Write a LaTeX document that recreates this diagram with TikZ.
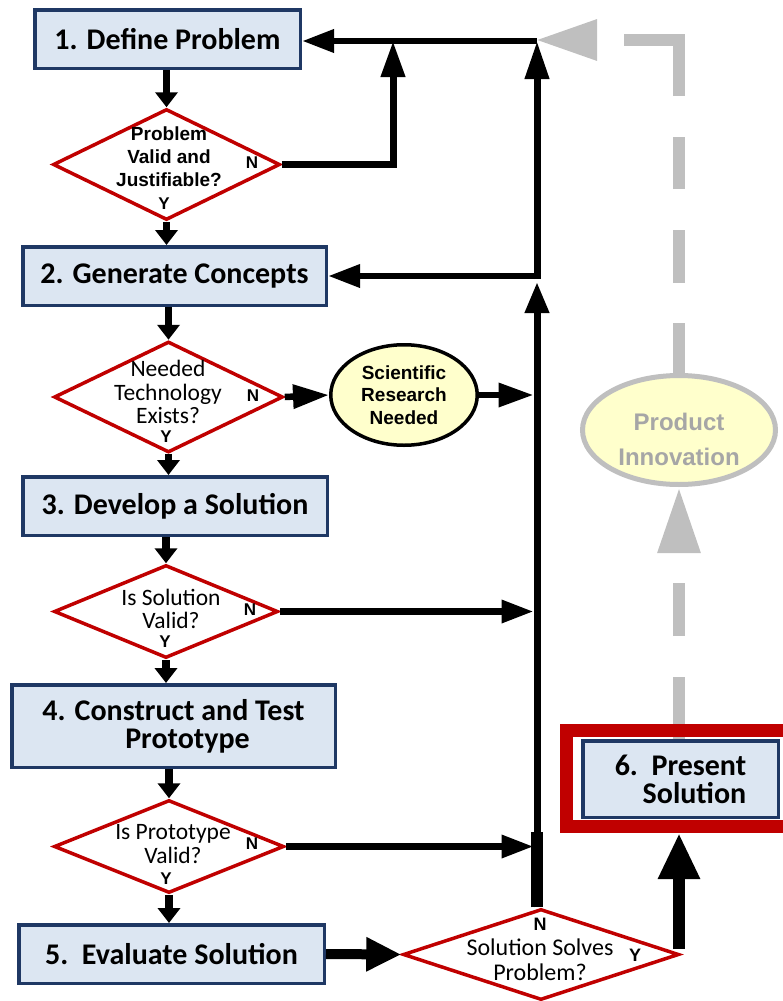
\documentclass[tikz,border=0pt]{standalone}
\usepackage{fontspec}
\usetikzlibrary{arrows.meta,shapes.geometric}
\newfontfamily\carl{Carlito}
\newfontfamily\arl{Liberation Sans}
\definecolor{navy}{HTML}{1F3864}
\definecolor{boxfill}{HTML}{DCE6F2}
\definecolor{dred}{HTML}{C00000}
\definecolor{pyellow}{HTML}{FFFFCC}
\definecolor{lgray}{HTML}{BFBFBF}
\definecolor{tgray}{HTML}{A6A6A6}
\tikzset{
  box/.style={draw=navy, line width=3.5pt, fill=boxfill, inner sep=0pt, align=center,
    font=\carl\bfseries\fontsize{30}{28}\selectfont},
  dia/.style={diamond, draw=dred, line width=3.5pt, inner sep=0pt, fill=white},
  dtxt/.style={inner sep=0pt, align=center, font=\carl\fontsize{23.5}{23.5}\selectfont},
  atxt/.style={inner sep=0pt, align=center, font=\arl\bfseries\fontsize{19}{23}\selectfont},
  yn/.style={inner sep=0pt, font=\arl\bfseries\fontsize{17}{17}\selectfont},
  conn/.style={line width=6.5pt, -{Triangle[length=32pt,width=22pt]}},
  stub/.style={line width=7.5pt, -{Triangle[length=15pt,width=22pt]}},
  upconn/.style={line width=7pt, -{Triangle[length=36pt,width=23pt]}},
  graydash/.style={draw=lgray, line width=12pt},
}
\begin{document}
\begin{tikzpicture}[x=1pt,y=-1pt]
\useasboundingbox (0,0) rectangle (782,1001);

% boxes
\node[box, minimum width=265.5pt, minimum height=58.5pt] (b1) at (167.5,39) {1. Define Problem};
\node[box, minimum width=303.5pt, minimum height=58.5pt] (b2) at (174.5,276) {2. Generate Concepts};
\node[box, minimum width=304.5pt, minimum height=58.5pt] (b3) at (175,506) {3. Develop a Solution};
\node[box, minimum width=323.5pt, minimum height=82.5pt] (b4) at (173.5,726) {4. Construct and Test\\\hspace*{28pt}Prototype};
\node[box, minimum width=305.5pt, minimum height=58.5pt] (b5) at (171.5,954) {5.\ \ Evaluate Solution};

% diamonds
\node[dia, minimum width=227pt, minimum height=111pt] (d1) at (166.5,164.5) {};
\node[dia, minimum width=229pt, minimum height=111pt] (d2) at (168.5,397) {};
\node[dia, minimum width=224pt, minimum height=93pt] (d3) at (166,611.5) {};
\node[dia, minimum width=230pt, minimum height=93pt] (d4) at (169,846.5) {};
\node[dia, minimum width=276pt, minimum height=91pt] (d5) at (541,954.5) {};

\node[atxt] (t1) at (169,157) {Problem\\Valid and\\Justifiable?};
\node[dtxt] (t2) at (168,392) {Needed\\Technology\\Exists?};
\node[dtxt] (t3) at (171,609) {Is Solution\\Valid?};
\node[dtxt] (t4) at (173,844) {Is Prototype\\Valid?};
\node[dtxt, font=\carl\fontsize{24}{25}\selectfont] (t5) at (540,960) {Solution Solves\\Problem?};

\node[yn] (n1) at (252,163) {N};
\node[yn] (y1) at (164,204) {Y};
\node[yn] (n2) at (253,396) {N};
\node[yn] (y2) at (166,437) {Y};
\node[yn] (n3) at (250,610) {N};
\node[yn] (y3) at (165,642) {Y};
\node[yn] (n4) at (252,844) {N};
\node[yn] (y4) at (166,879) {Y};
\node[yn, font=\arl\bfseries\fontsize{18}{18}\selectfont] (n5) at (540,924) {N};
\node[yn, font=\arl\bfseries\fontsize{18}{18}\selectfont] (y5) at (635,955) {Y};

% ellipses
\node[ellipse, draw=black, line width=3.5pt, fill=pyellow, minimum width=146.5pt, minimum height=100.5pt,
      inner sep=0pt, align=center, font=\arl\bfseries\fontsize{19}{22.5}\selectfont] (srn) at (404,395) {Scientific\\Research\\Needed};
\node[ellipse, draw=lgray, line width=5pt, fill=pyellow, minimum width=193pt, minimum height=109pt,
      inner sep=0pt] (pi) at (679,430) {};
\node[inner sep=0pt, align=center, text=tgray, font=\arl\bfseries\fontsize{24}{35}\selectfont] (pit) at (679,439) {Product\\Innovation};

% coordinates
\coordinate (J1) at (537,41);
\coordinate (J2) at (537,276);
\coordinate (J2c) at (537,279);
\coordinate (J2b) at (537,282);
\coordinate (K1) at (393,41);
\coordinate (T) at (537,832);
\coordinate (Y0) at (679,949);
\coordinate (F6) at (679,833);
\coordinate (GT) at (535,40);
\coordinate (G6) at (679,739);
\coordinate (TL) at (533.5,0);

% gray dashed paths (behind)
\draw[graydash, dash pattern=on 62pt off 41pt on 53pt off 100pt, -{Triangle[length=66pt,width=40pt]}]
  (G6) -- (pi.south);
\draw[graydash, dash pattern=on 50pt off 40pt on 53pt off 41pt on 52pt off 41pt on 111pt off 40pt,
  -{Triangle[length=62pt,width=38pt]}] (pi.north) |- (GT);

% red frame around box 6
\draw[dred, line width=13pt] (790,730.5) -- (566.5,730.5) -- (566.5,826.5) -- (790,826.5);
\node[box, minimum width=195.5pt, minimum height=76.5pt, align=right] (b6) at (680.5,779) {6.\ \ Present\\Solution};

% vertical stubs
\draw[stub] (b1.south -| d1.north) -- (d1.north);
\draw[stub] (d1.south) -- (d1.south |- b2.north);
\draw[stub] (b2.south -| d2.north) -- (d2.north);
\draw[stub] (d2.south) -- (d2.south |- b3.north);
\draw[stub] (b3.south -| d3.north) -- (d3.north);
\draw[stub] (d3.south) -- (d3.south |- b4.north);
\draw[stub] (b4.south -| d4.north) -- (d4.north);
\draw[stub] (d4.south) -- (d4.south |- b5.north);

% trunk
\draw[upconn, -{Triangle[length=31pt,width=23pt]}] (J2b |- d5.north) -- (J2b);
\draw[line width=12pt] (J2b |- d5.north) -- (T);
\draw[upconn, -{Triangle[length=38pt,width=23pt]}] (J2c) -- (J1);
\draw[conn] (J1) -- (J1 -| b1.east);
\draw[conn] (J2) -- (J2 -| b2.east);
\draw[upconn] (d1.east) -| (K1);

% feeds into trunk
\draw[conn, -{Triangle[length=36pt,width=23pt]}] (d2.east) -- (srn.west);
\draw[conn, -{Triangle[length=35pt,width=23pt]}] (srn.east) -- (srn.east -| TL);
\draw[conn] (d3.east) -- (d3.east -| TL);
\draw[conn] (d4.east) -- (d4.east -| TL);

% evaluate -> solves
\draw[line width=10pt, -{Triangle[length=35pt,width=32pt]}] (b5.east) -- (d5.west);
\draw[line width=12pt, -{Triangle[length=46pt,width=39pt]}] (Y0) -- (F6);
\end{tikzpicture}
\end{document}
